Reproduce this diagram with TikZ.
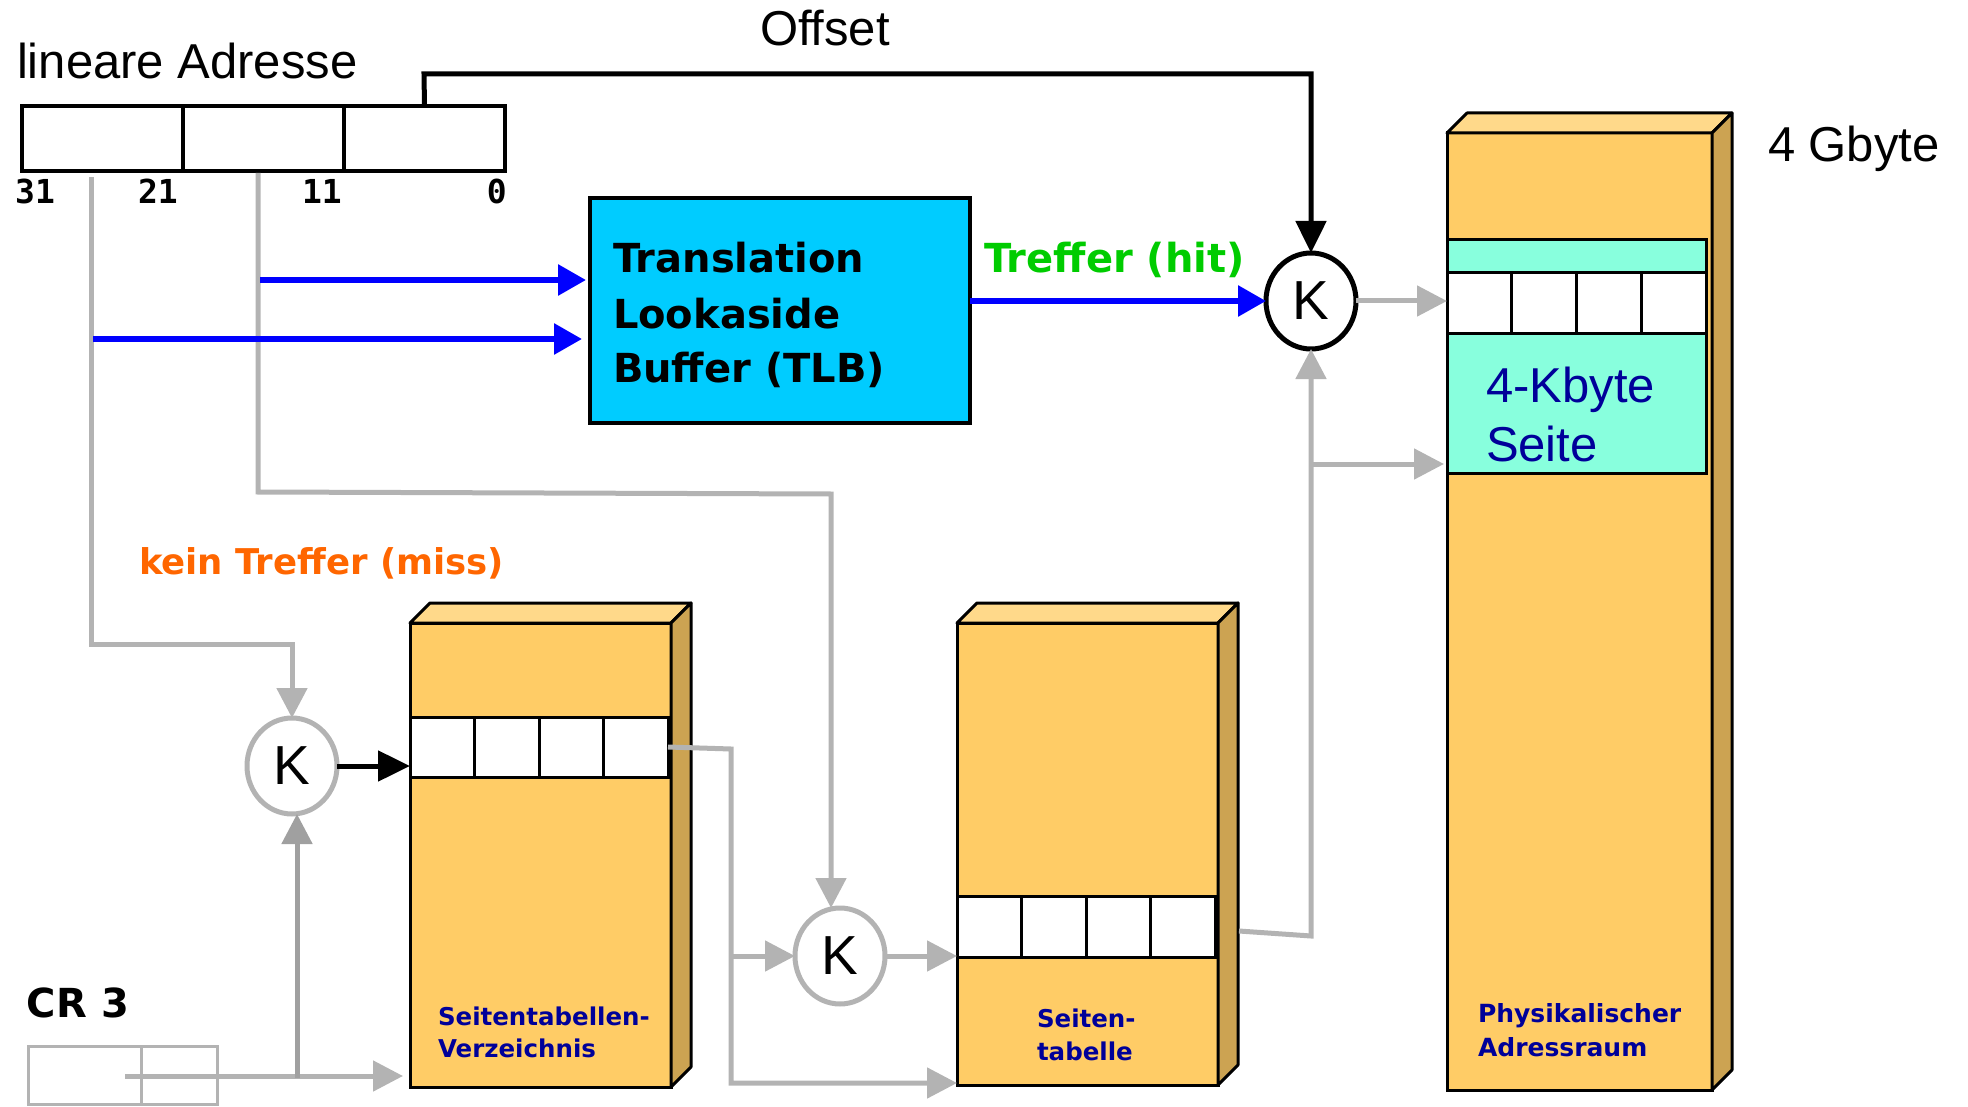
\documentclass[tikz,border=0pt]{standalone}
\usepackage{fontspec}
\setmainfont{Liberation Sans}
\newfontfamily\heavyfam{DejaVu Sans}
\newfontfamily\digitfam{DejaVu Sans Mono}
\usetikzlibrary{arrows.meta,shapes.geometric,calc}

\newcommand\setfs[1]{\fontsize{#1}{#1}\selectfont}

\definecolor{cLine}{HTML}{B3B3B3}
\definecolor{cLineDk}{HTML}{A0A0A0}
\definecolor{cFront}{HTML}{FFCC66}
\definecolor{cTop}{HTML}{FFD98A}
\definecolor{cSide}{HTML}{CCA352}
\definecolor{cTlb}{HTML}{00CCFF}
\definecolor{cPage}{HTML}{88FFDD}
\definecolor{cNavy}{HTML}{000099}
\definecolor{cHit}{HTML}{00CC00}
\definecolor{cMiss}{HTML}{FF6600}
\definecolor{cBlue}{HTML}{0000FF}

% top and side faces of a memory slab whose front face is node #1
\newcommand\slabfaces[1]{%
  \filldraw[slabline, fill=cTop] (#1.north west) -- ++(20,-20)
    -- ($(#1.north east)+(20,-20)$) -- (#1.north east) -- cycle;
  \filldraw[slabline, fill=cSide] (#1.north east) -- ++(20,-20)
    -- ($(#1.south east)+(20,-20)$) -- (#1.south east) -- cycle;
}
% three dividers splitting a row node into four entries
\newcommand\fourcells[1]{%
  \foreach \f in {0.25,0.5,0.75}
    \draw[line width=3pt] ($(#1.north west)!\f!(#1.north east)$) -- ($(#1.south west)!\f!(#1.south east)$);
}

\begin{document}
\begin{tikzpicture}[x=1pt,y=-1pt,
  slabline/.style={draw=black, line width=3pt, line join=round},
  slabfront/.style={rectangle, draw=black, line width=3pt, fill=cFront, inner sep=0pt, outer sep=0pt},
  cellrow/.style={rectangle, draw=black, line width=3pt, fill=white, inner sep=0pt, outer sep=0pt, minimum width=258pt, minimum height=60pt},
  field/.style={rectangle, draw=black, line width=4pt, inner sep=0pt, outer sep=0pt, minimum width=161pt, minimum height=65pt},
  kcirc/.style={ellipse, draw=cLine, line width=5pt, fill=white, inner sep=0pt, outer sep=0pt,
    minimum width=90pt, minimum height=96pt, font=\setfs{55}},
  grayline/.style={draw=cLine, line width=5pt},
  grayarrow/.style={grayline, -{Triangle[length=30pt,width=30pt]}},
  bluearrow/.style={draw=cBlue, line width=6pt, -{Triangle[length=28pt,width=30pt]}},
  blackarrow/.style={draw=black, line width=5pt, -{Triangle[length=32pt,width=30pt]}},
  lbl/.style={anchor=base west, inner sep=0pt, outer sep=0pt},
  bigtext/.style={lbl, font=\setfs{49}},
  heavytext/.style={lbl, font=\heavyfam\bfseries\setfs{40}},
  slabtext/.style={lbl, text=cNavy, font=\heavyfam\bfseries\setfs{24.5}},
  bitlbl/.style={anchor=base, inner sep=0pt, font=\digitfam\bfseries\setfs{33}}
]
\useasboundingbox (0,0) rectangle (1968,1107);

% ---------- linear address ----------
\node[bigtext] (lintitle) at (17,79) {lineare Adresse};
\node[field] (f1) at (102.5,138.5) {};
\node[field] (f2) at (263.5,138.5) {};
\node[field] (f3) at (424.5,138.5) {};
\node[bitlbl, anchor=base west] (b31) at (15,204) {31};
\node[bitlbl, anchor=base east] (b21) at (178,204) {21};
\node[bitlbl, anchor=base east] (b11) at (342,204) {11};
\node[bitlbl, anchor=base east] (b0) at (507,204) {0};

\node[bigtext] (offlbl) at (760,46) {Offset};

% ---------- TLB ----------
\node[rectangle, draw=black, line width=4pt, fill=cTlb, inner sep=0pt, outer sep=0pt,
  minimum width=380pt, minimum height=225pt] (tlb) at (780,310.5) {};
\node[heavytext] (tlb1) at (613,273) {Translation};
\node[heavytext] (tlb2) at (613,328) {Lookaside};
\node[heavytext] (tlb3) at (613,382) {Buffer (TLB)};
\node[heavytext, text=cHit] (hit) at (984,273) {Treffer (hit)};
\node[heavytext, text=cMiss, font=\heavyfam\bfseries\setfs{35.5}] (miss) at (139,574) {kein Treffer (miss)};

% ---------- page directory ----------
\node[slabfront, minimum width=261pt, minimum height=464pt] (pd) at (540.5,855) {};
\slabfaces{pd}
\node[cellrow] (pdrow) at (539,747) {};
\fourcells{pdrow}
\node[slabtext] (pdl1) at (438,1025) {Seitentabellen-};
\node[slabtext] (pdl2) at (438,1057) {Verzeichnis};

% ---------- page table ----------
\node[slabfront, minimum width=261pt, minimum height=462pt] (pt) at (1087.5,854) {};
\slabfaces{pt}
\node[cellrow, minimum height=61pt] (ptrow) at (1086,926.5) {};
\fourcells{ptrow}
\node[slabtext] (ptl1) at (1037,1027) {Seiten-};
\node[slabtext] (ptl2) at (1037,1060) {tabelle};

% ---------- physical address space ----------
\node[slabfront, minimum width=265pt, minimum height=957pt] (phys) at (1579.5,611.5) {};
\slabfaces{phys}
\node[rectangle, draw=black, line width=3pt, fill=cPage, inner sep=0pt, outer sep=0pt,
  minimum width=259pt, minimum height=233pt] (page) at (1576.5,356.5) {};
\node[cellrow, minimum width=259pt, minimum height=61pt] (physrow) at (1576.5,303.5) {};
\fourcells{physrow}
\node[bigtext, text=cNavy] (pg1) at (1486,402) {4-Kbyte};
\node[bigtext, text=cNavy] (pg2) at (1486,461) {Seite};
\node[bigtext] (gb) at (1768,162) {4 Gbyte};
\node[slabtext, font=\heavyfam\bfseries\setfs{25}] (ph1) at (1478,1022) {Physikalischer};
\node[slabtext, font=\heavyfam\bfseries\setfs{25}] (ph2) at (1478,1056) {Adressraum};

% ---------- CR3 ----------
\node[lbl, font=\heavyfam\bfseries\setfs{40}] (crlbl) at (27,1017) {CR 3};
\node[rectangle, draw=cLine, line width=3pt, inner sep=0pt, outer sep=0pt,
  minimum width=189pt, minimum height=58pt] (cr3) at (122.5,1075) {};
\draw[draw=cLine, line width=3pt] ($(cr3.north west)!0.598!(cr3.north east)$) -- ($(cr3.south west)!0.598!(cr3.south east)$);

% ---------- combiners ----------
\node[kcirc] (k1) at (292,766) {K};
\node[kcirc] (k2) at (840,956) {K};
\node[kcirc, draw=black] (k3) at (1311,301) {K};

% ---------- connectors ----------
\coordinate (g1) at (91,177);
\coordinate (g1b) at (91,644);
\draw[grayarrow] (g1) -- (g1b) -| (k1.north);

\coordinate (g2) at (258,173);
\coordinate (g2b) at (258,492);
\coordinate (g2c) at (831,494);
\draw[grayarrow] (g2) -- (g2b) -- (g2c) -- (g2c |- k2.north);

\coordinate (cr3o) at (125,1076);
\draw[grayarrow, shorten >=7pt] (cr3o) -- (cr3o -| pd.west);
\coordinate (cr3j) at (297,1078);
\draw[grayarrow, draw=cLineDk] (cr3j) -- (cr3j |- k1.south);

\draw[blackarrow] (k1.east) -- (k1.east -| pdrow.west);

\coordinate (pdo) at (731,749);
\coordinate (pdl) at (731,1083);
\draw[grayarrow] (pdrow.east) -- (pdo) -- (pdl) -- (pdl -| pt.west);
\draw[grayarrow] (pdo |- k2.west) -- (k2.west);
\draw[grayarrow] (k2.east) -- (k2.east -| ptrow.west);

\coordinate (pts) at (1239,931);
\coordinate (ptj) at (1311,936);
\draw[grayarrow] (pts) -- (ptj) -- (k3.south);
\coordinate (pagein) at (1444,464);
\draw[grayarrow] (ptj |- pagein) -- (pagein);
\draw[grayarrow] (k3.east) -- (k3.east -| physrow.west);

\coordinate (b1) at (260,280);
\coordinate (b2) at (93,339);
\draw[bluearrow, shorten >=4pt] (b1) -- (b1 -| tlb.west);
\draw[bluearrow, shorten >=8pt] (b2) -- (b2 -| tlb.west);
\draw[bluearrow] (tlb.east |- k3.west) -- (k3.west);

\coordinate (offbend) at (424,74);
\draw[blackarrow] (f3.north) -- (offbend) -| (k3.north);
\end{tikzpicture}
\end{document}
